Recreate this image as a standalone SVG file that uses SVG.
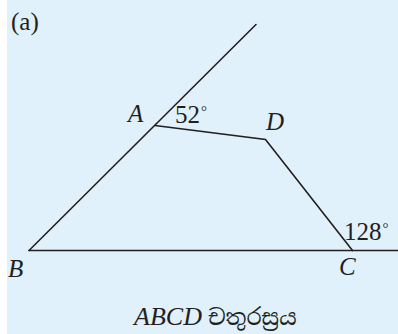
<svg xmlns="http://www.w3.org/2000/svg" width="398" height="334" viewBox="0 0 398 334">
<style>
.t{font-family:"Liberation Serif","Times New Roman",serif;font-size:25px;fill:#231f20}
.i{font-style:italic}
.deg{font-size:15px}
.ln{stroke:#231f20;stroke-width:1.6;fill:none;stroke-linecap:round;stroke-linejoin:miter}
</style>
<rect x="7" y="0" width="391" height="334" fill="#e0f1fb"/>
<g id="connectors">
<line class="ln" x1="29" y1="250.5" x2="256" y2="24.5"/>
<polyline class="ln" points="155,125.5 265.5,139.5 352.5,250.5"/>
<line class="ln" x1="29" y1="250.5" x2="398" y2="250.5"/>
</g>
<g id="label-a"><text class="t" x="11" y="30" font-size="27">(a)</text></g>
<g id="node-A"><text class="t i" x="128" y="122">A</text></g>
<g id="angle-52"><text class="t" x="175" y="123">52<tspan class="deg" dx="1" dy="-7">°</tspan></text></g>
<g id="node-D"><text class="t i" x="266" y="130">D</text></g>
<g id="angle-128"><text class="t" x="344" y="240">128<tspan class="deg" dx="1" dy="-7">°</tspan></text></g>
<g id="node-B"><text class="t i" x="8" y="277">B</text></g>
<g id="node-C"><text class="t i" x="339" y="275">C</text></g>
<g id="title"><text class="t" x="134" y="325"><tspan class="i" font-size="26" textLength="68">ABCD</tspan> <tspan font-family="'Noto Serif Sinhala','Noto Sans Sinhala',serif" font-size="22">චතුරස්‍රය</tspan></text></g>
</svg>
